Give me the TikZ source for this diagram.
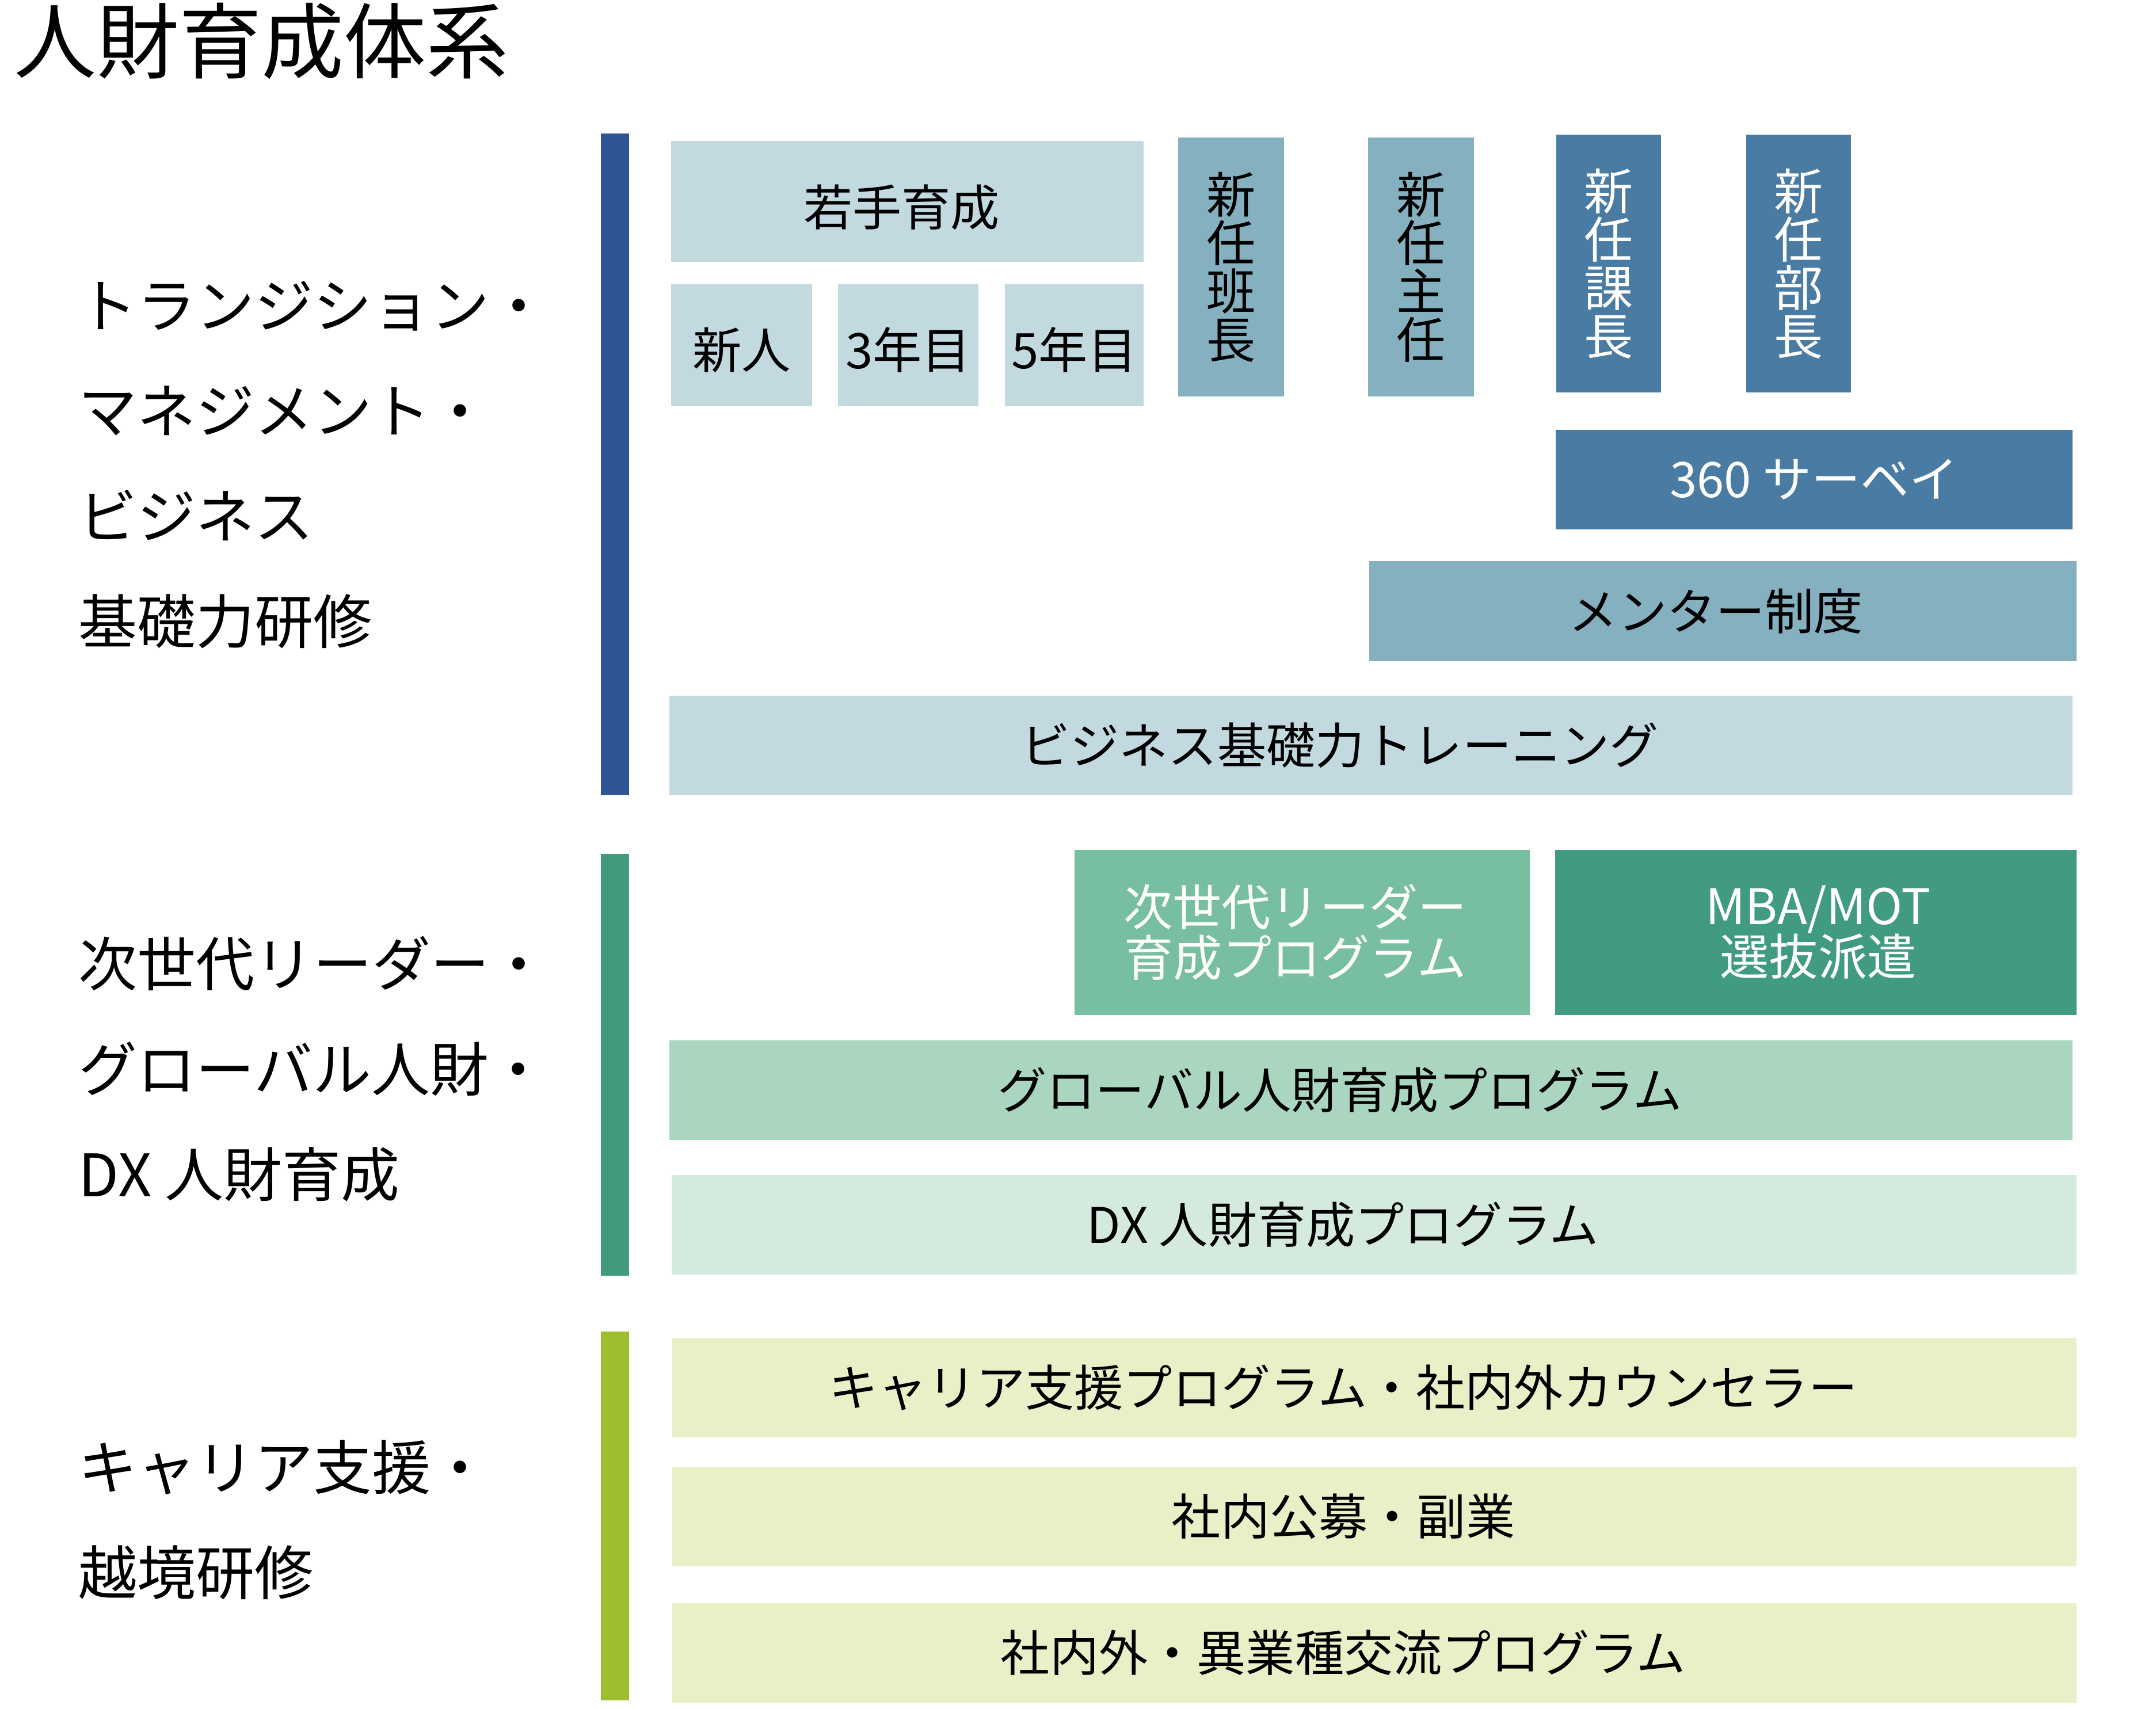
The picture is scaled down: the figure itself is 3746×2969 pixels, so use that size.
\documentclass[tikz,border=0pt]{standalone}
\usepackage{fontspec}
\setmainfont{Noto Sans CJK JP}
\usetikzlibrary{fit}
\definecolor{navybar}{HTML}{2F5596}
\definecolor{lightblue}{HTML}{C2D9E0}
\definecolor{midblue}{HTML}{85B0C0}
\definecolor{darkblue}{HTML}{4A7CA3}
\definecolor{greenbar}{HTML}{3F9A7E}
\definecolor{midgreen}{HTML}{77BFA0}
\definecolor{darkgreen}{HTML}{419B81}
\definecolor{lightgreen}{HTML}{AAD6C0}
\definecolor{palegreen}{HTML}{D5EADF}
\definecolor{limebar}{HTML}{9DBE2E}
\definecolor{paleyellow}{HTML}{E7F0C6}
\begin{document}
\begin{tikzpicture}[x=0.25pt,y=-0.25pt,
  boxshape/.style={inner sep=0pt, outer sep=0pt, draw=none},
  txt/.style={inner sep=0pt, outer sep=0pt, align=center,
    font=\fontsize{21.3pt}{22pt}\selectfont},
  vtxt/.style={txt, font=\fontsize{21.3pt}{21pt}\selectfont},
  widetxt/.style={txt, xshift=-13.5pt},
  grouplabel/.style={inner sep=0pt, anchor=west, align=left,
    font=\fontsize{25.5pt}{45.75pt}\selectfont}]
\useasboundingbox[fill=white] (0,0) rectangle (3746,2969);

% title
\node[inner sep=0pt, anchor=west, font=\fontsize{35.8pt}{36pt}\selectfont] (title) at (24,72) {人財育成体系};

% group bars
\node[boxshape, fill=navybar, fit={(1044,232) (1093,1382)}] (bar1) {};
\node[boxshape, fill=greenbar, fit={(1044,1484) (1093,2217)}] (bar2) {};
\node[boxshape, fill=limebar, fit={(1044,2314) (1093,2955)}] (bar3) {};

% group labels
\node[grouplabel] (lab1) at (136,808) {トランジション・\\マネジメント・\\ビジネス\\基礎力研修};
\node[grouplabel] (lab2) at (136,1858) {次世代リーダー・\\グローバル人財・\\DX 人財育成};
\node[grouplabel] (lab3) at (136,2641) {キャリア支援・\\越境研修};

% group 1 boxes
\node[boxshape, fill=lightblue, fit={(1166,245) (1987,455)}] (wakate) {};
\node[boxshape, fill=lightblue, fit={(1166,494) (1411,706)}] (shinjin) {};
\node[boxshape, fill=lightblue, fit={(1456,494) (1700,706)}] (y3) {};
\node[boxshape, fill=lightblue, fit={(1746,494) (1987,706)}] (y5) {};
\node[boxshape, fill=midblue, fit={(2047,239) (2231,689)}] (hancho) {};
\node[boxshape, fill=midblue, fit={(2377,239) (2561,689)}] (shunin) {};
\node[boxshape, fill=darkblue, fit={(2704,234) (2886,682)}] (kacho) {};
\node[boxshape, fill=darkblue, fit={(3034,234) (3216,682)}] (bucho) {};
\node[boxshape, fill=darkblue, fit={(2703,747) (3601,920)}] (survey) {};
\node[boxshape, fill=midblue, fit={(2379,975) (3608,1149)}] (mentor) {};
\node[boxshape, fill=lightblue, fit={(1163,1209) (3601,1382)}] (biz) {};

\node[txt, xshift=-2.5pt, yshift=-2.5pt] (wakate text) at (wakate) {若手育成};
\node[txt, yshift=-2pt] (shinjin text) at (shinjin) {新人};
\node[txt, yshift=-2pt] (y3 text) at (y3) {3年目};
\node[txt, yshift=-2pt] (y5 text) at (y5) {5年目};
\node[vtxt] (hancho text) at (hancho) {新\\任\\班\\長};
\node[vtxt] (shunin text) at (shunin) {新\\任\\主\\任};
\node[vtxt, text=white] (kacho text) at (kacho) {新\\任\\課\\長};
\node[vtxt, text=white] (bucho text) at (bucho) {新\\任\\部\\長};
\node[txt, text=white] (survey text) at (survey) {360 サーベイ};
\node[txt, xshift=-3pt] (mentor text) at (mentor) {メンター制度};
\node[widetxt] (biz text) at (biz) {ビジネス基礎力トレーニング};

% group 2 boxes
\node[boxshape, fill=midgreen, fit={(1867,1477) (2658,1764)}] (jisedai) {};
\node[boxshape, fill=darkgreen, fit={(2702,1477) (3608,1764)}] (mba) {};
\node[boxshape, fill=lightgreen, fit={(1163,1808) (3601,1981)}] (global) {};
\node[boxshape, fill=palegreen, fit={(1167,2042) (3608,2215)}] (dx) {};

\node[txt, text=white, xshift=-3pt] (jisedai text) at (jisedai) {次世代リーダー\\育成プログラム};
\node[txt, text=white, xshift=1pt] (mba text) at (mba) {MBA/MOT\\選抜派遣};
\node[widetxt] (global text) at (global) {グローバル人財育成プログラム};
\node[widetxt] (dx text) at (dx) {DX 人財育成プログラム};

% group 3 boxes
\node[boxshape, fill=paleyellow, fit={(1168,2325) (3608,2498)}] (career) {};
\node[boxshape, fill=paleyellow, fit={(1168,2549) (3608,2722)}] (koubo) {};
\node[boxshape, fill=paleyellow, fit={(1168,2786) (3608,2959)}] (kouryu) {};

\node[widetxt] (career text) at (career) {キャリア支援プログラム・社内外カウンセラー};
\node[widetxt] (koubo text) at (koubo) {社内公募・副業};
\node[widetxt] (kouryu text) at (kouryu) {社内外・異業種交流プログラム};
\end{tikzpicture}
\end{document}
